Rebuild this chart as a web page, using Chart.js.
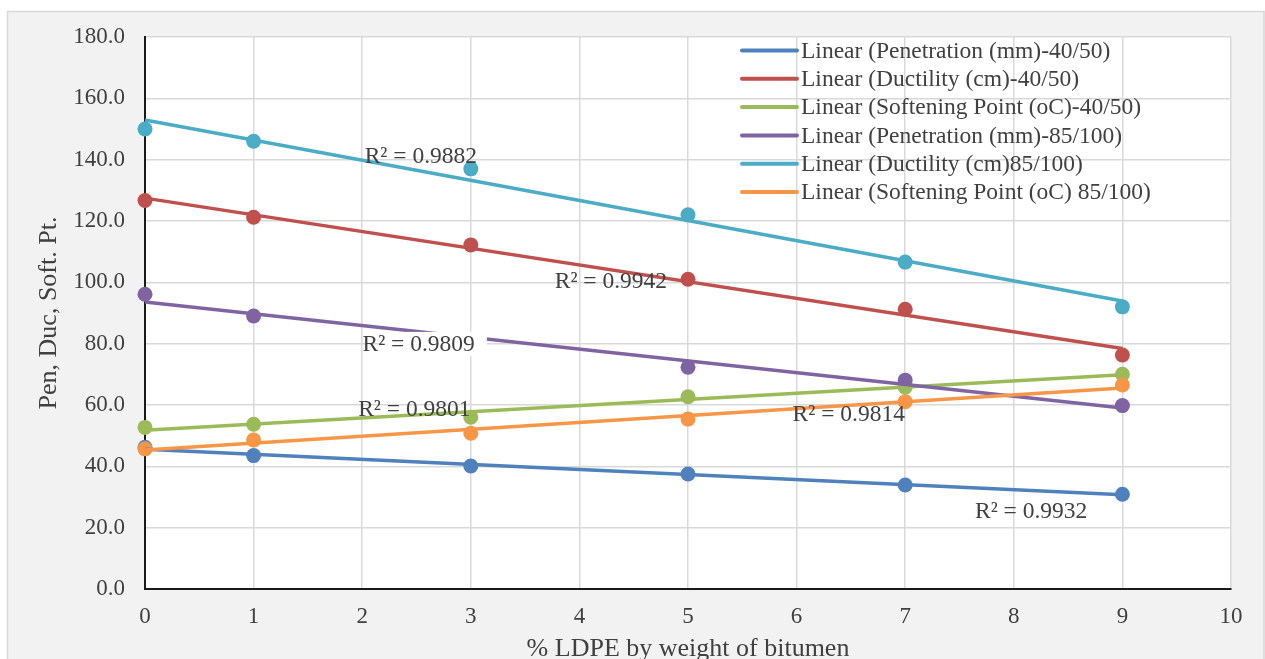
<!DOCTYPE html>
<html>
<head>
<meta charset="utf-8">
<title>LDPE modified bitumen</title>
<script src="https://cdn.jsdelivr.net/npm/chart.js@4.4.1/dist/chart.umd.min.js"></script>
<style>
  html, body { margin: 0; padding: 0; background: #fff; overflow: hidden; }
  canvas { display: block; }
</style>
</head>
<body>
<canvas id="grafico" width="1265" height="659"></canvas>
<script>
// % LDPE por peso de betún
const xPct = [0, 1, 3, 5, 7, 9];

// Ensayos por grado de betún
const pen4050  = [46.2, 43.5, 40.1, 37.5, 33.9, 30.9];
const duc4050  = [126.7, 121.2, 112.2, 101.0, 91.2, 76.3];
const sp4050   = [52.7, 53.7, 56.0, 62.7, 65.8, 70.0];
const pen85100 = [96.1, 89.0, 80.1, 72.3, 68.1, 59.8];
const duc85100 = [150.0, 146.0, 137.0, 122.0, 106.6, 92.0];
const sp85100  = [45.7, 48.6, 50.8, 55.4, 61.1, 66.5];

const nombres = [
    'Linear (Penetration (mm)-40/50)',
    'Linear (Ductility (cm)-40/50)',
    'Linear (Softening Point (oC)-40/50)',
    'Linear (Penetration (mm)-85/100)',
    'Linear (Ductility (cm)85/100)',
    'Linear (Softening Point (oC) 85/100)'
];
const r2Textos = ['R² = 0.9932', 'R² = 0.9942', 'R² = 0.9801', 'R² = 0.9809', 'R² = 0.9882', 'R² = 0.9814'];

// Donde va cada etiqueta R² (en unidades de los ejes)
const r2Pos = [[8.16, 25.2], [4.29, 100.2], [2.48, 58.4], [2.52, 79.6], [2.54, 140.9], [6.48, 56.7]];
const r2Fondo = [false, false, false, true, false, false];

const series = [pen4050, duc4050, sp4050, pen85100, duc85100, sp85100];
const colores = ['#4F81BD', '#C0504D', '#9BBB59', '#8064A2', '#4BACC6', '#F79646'];

const FUENTE = '"Liberation Serif", "Times New Roman", serif';
const TEXTO = '#404040';

// Recta de mínimos cuadrados
const tendencia = (xs, ys) => {
    const n = xs.length;
    const mx = xs.reduce((a, b) => a + b, 0) / n;
    const my = ys.reduce((a, b) => a + b, 0) / n;
    let sxy = 0, sxx = 0;
    xs.forEach((x, i) => { sxy += (x - mx) * (ys[i] - my); sxx += (x - mx) * (x - mx); });
    const m = sxy / sxx;
    const b = my - m * mx;
    const x0 = Math.min(...xs), x1 = Math.max(...xs);
    return [{x: x0, y: b + m * x0}, {x: x1, y: b + m * x1}];
};

const datasets = [];
series.forEach((ys, i) => {
    datasets.push({
        label: nombres[i].replace('Linear (', '').slice(0, -1),
        data: xPct.map((x, k) => ({x: x, y: ys[k]})),
        backgroundColor: colores[i],
        borderWidth: 0,
        pointRadius: 7.5,
        pointHoverRadius: 7.5,
        clip: false,
        order: 20 - i
    });
});
series.forEach((ys, i) => {
    datasets.push({
        type: 'line',
        label: nombres[i],
        data: tendencia(xPct, ys),
        borderColor: colores[i],
        borderWidth: 3.5,
        pointRadius: 0,
        showLine: true,
        fill: false,
        clip: false,
        order: 10 - i
    });
});

// Fondo gris del gráfico y área de trazado blanca
const fondo = {
    id: 'fondo',
    beforeDraw(chart) {
        const ctx = chart.ctx;
        const a = chart.chartArea;
        ctx.save();
        ctx.fillStyle = '#ffffff';
        ctx.fillRect(0, 0, chart.width, chart.height);
        ctx.fillStyle = '#f2f2f2';
        ctx.fillRect(7, 11, chart.width - 7, chart.height - 11);
        ctx.strokeStyle = '#d9d9d9';
        ctx.lineWidth = 1.5;
        ctx.strokeRect(7.5, 11.5, chart.width - 8.5, chart.height + 10);
        ctx.fillStyle = '#ffffff';
        ctx.fillRect(a.left, a.top, a.right - a.left, a.bottom - a.top);
        ctx.restore();
    }
};

// Etiquetas R² y leyenda solo con las líneas de tendencia
const extras = {
    id: 'extras',
    afterDatasetsDraw(chart) {
        const ctx = chart.ctx;
        const sx = chart.scales.x, sy = chart.scales.y;
        ctx.save();
        ctx.font = '23.5px ' + FUENTE;
        ctx.textBaseline = 'middle';
        r2Textos.forEach((t, i) => {
            const px = sx.getPixelForValue(r2Pos[i][0]);
            const py = sy.getPixelForValue(r2Pos[i][1]);
            const w = ctx.measureText(t).width;
            if (r2Fondo[i]) {
                ctx.fillStyle = '#ffffff';
                ctx.fillRect(px - w / 2 + 20, py - 13, w - 8, 24);
            }
            ctx.fillStyle = TEXTO;
            ctx.textAlign = 'center';
            ctx.fillText(t, px, py);
        });

        const lineas = chart.data.datasets.filter(d => d.type === 'line');
        const x0 = 742, x1 = 797, y0 = 50.5, paso = 28.3;
        ctx.textAlign = 'left';
        lineas.forEach((d, i) => {
            const y = y0 + i * paso;
            ctx.strokeStyle = d.borderColor;
            ctx.lineWidth = 4;
            ctx.lineCap = 'round';
            ctx.beginPath();
            ctx.moveTo(x0, y);
            ctx.lineTo(x1, y);
            ctx.stroke();
            ctx.fillStyle = TEXTO;
            ctx.fillText(d.label, x1 + 4, y + 1);
        });
        ctx.restore();
    }
};

const myChart = new Chart('grafico', {
    type: 'scatter',
    data: { datasets: datasets },
    plugins: [fondo, extras],
    options: {
        responsive: false,
        animation: false,
        devicePixelRatio: 1,
        layout: { padding: { top: 37, right: 34, left: 0, bottom: 0 } },
        plugins: {
            legend: { display: false },
            tooltip: { enabled: false }
        },
        scales: {
            x: {
                type: 'linear',
                min: 0,
                max: 10,
                afterFit: (scale) => { scale.height = 70; },
                ticks: {
                    stepSize: 1,
                    padding: 14,
                    color: TEXTO,
                    font: { family: FUENTE, size: 23 }
                },
                grid: { color: '#d9d9d9', lineWidth: 1.5, drawTicks: false },
                border: { color: '#1a1a1a', width: 2 },
                title: {
                    display: true,
                    text: '% LDPE by weight of bitumen',
                    color: TEXTO,
                    font: { family: FUENTE, size: 26, lineHeight: 0.75 },
                    padding: { top: 0, bottom: 0 }
                }
            },
            y: {
                min: 0,
                max: 180,
                afterFit: (scale) => { scale.width = 145; },
                ticks: {
                    stepSize: 20,
                    padding: 20,
                    color: TEXTO,
                    font: { family: FUENTE, size: 23 },
                    callback: (v) => Number(v).toFixed(1)
                },
                grid: { color: '#d9d9d9', lineWidth: 1.5, drawTicks: false },
                border: { color: '#1a1a1a', width: 2 },
                title: {
                    display: true,
                    text: 'Pen, Duc, Soft. Pt.',
                    color: TEXTO,
                    font: { family: FUENTE, size: 26, lineHeight: 1.2 },
                    padding: { top: 34, bottom: 0 }
                }
            }
        }
    }
});
</script>
</body>
</html>
